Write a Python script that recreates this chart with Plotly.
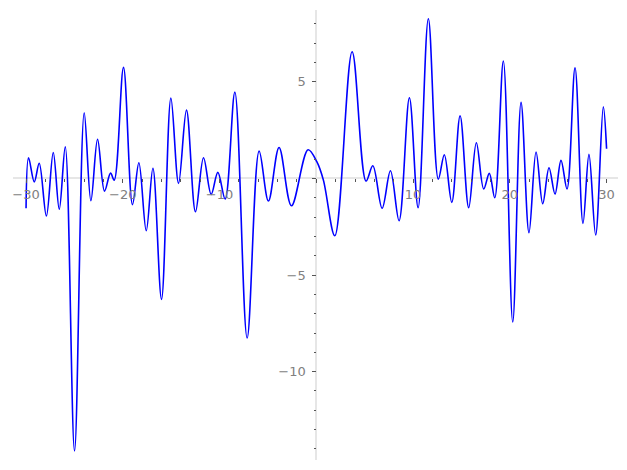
import plotly.graph_objects as go

# curve samples (local extrema and a few shape points)
x_vals = [-30, -29.74, -29.15, -28.64, -27.9, -27.19, -26.57, -25.95, -24.99, -23.99,
          -23.3, -22.61, -21.89, -21.27, -20.89, -19.93, -19.0, -18.34, -17.58, -16.89,
          -16.0, -15.03, -14.24, -13.42, -12.49, -11.66, -10.87, -10.18, -9.42, -8.42,
          -7.15, -5.91, -4.95, -3.85, -2.57, -0.85, 0.05, 0.73, 1.91, 3.7,
          5.14, 5.84, 6.8, 7.66, 8.55, 9.62, 10.52, 11.58, 12.61, 13.23,
          14.0, 14.86, 15.75, 16.54, 17.3, 17.88, 18.44, 19.33, 20.3, 21.16,
          21.98, 22.71, 23.4, 24.05, 24.67, 25.29, 25.91, 26.74, 27.56, 28.18,
          28.87, 29.66, 30]
y_vals = [-1.55, 1.07, -0.18, 0.78, -1.95, 1.34, -1.6, 1.63, -14.1, 3.39,
          -1.16, 2.02, -0.66, 0.27, -0.09, 5.74, -1.36, 0.81, -2.71, 0.52,
          -6.26, 4.15, -0.26, 3.53, -1.73, 1.07, -0.83, 0.31, -1.07, 4.46,
          -8.26, 1.41, -1.17, 1.6, -1.42, 1.48, 0.86, -0.09, -2.97, 6.55,
          -0.14, 0.65, -1.55, 0.39, -2.19, 4.17, -1.52, 8.26, -0.04, 1.22,
          -1.24, 3.24, -1.52, 1.84, -0.55, 0.26, -1.0, 6.07, -7.43, 3.93,
          -2.81, 1.36, -1.31, 0.55, -0.81, 0.93, -0.55, 5.72, -2.33, 1.24,
          -2.93, 3.7, 1.53]

x_tickvals = [-30, -20, -10, 0, 10, 20, 30]
x_ticktext = ["\u221230", "\u221220", "\u221210", "", "10", "20", "30"]
y_tickvals = [-10, -5, 0, 5]
y_ticktext = ["\u221210", "\u22125", "", "5"]

X_RANGE = [-31.35, 31.18]
Y_RANGE = [-14.57, 8.71]

fig = go.Figure()
fig.add_trace(go.Scatter(x=x_vals, y=y_vals, mode="lines",
                         line=dict(color="#0000ff", width=1.6, shape="spline", smoothing=1.0),
                         hoverinfo="skip"))

xpos = (0 - Y_RANGE[0]) / (Y_RANGE[1] - Y_RANGE[0])
ypos = (0 - X_RANGE[0]) / (X_RANGE[1] - X_RANGE[0])

tickfont = dict(family="DejaVu Sans", size=13, color="#808080")

fig.update_layout(
    width=627, height=470,
    margin=dict(l=13, r=9, t=10, b=10),
    paper_bgcolor="white", plot_bgcolor="white",
    showlegend=False,
    xaxis=dict(range=X_RANGE, anchor="free", position=xpos, showgrid=False,
               zeroline=True, zerolinecolor="#e6e6e6", zerolinewidth=2,
               showline=False, tickmode="array", tickvals=x_tickvals, ticktext=x_ticktext,
               ticks="outside", ticklen=4, tickwidth=1, tickcolor="#555555",
               tickfont=tickfont,
               minor=dict(dtick=2, tick0=0, ticks="outside", ticklen=2.5, tickcolor="#555555",
                          showgrid=False)),
    yaxis=dict(range=Y_RANGE, anchor="free", position=ypos, showgrid=False,
               zeroline=True, zerolinecolor="#e6e6e6", zerolinewidth=2,
               showline=False, tickmode="array", tickvals=y_tickvals, ticktext=y_ticktext,
               ticks="outside", ticklen=4, tickwidth=1, tickcolor="#555555",
               tickfont=tickfont, ticklabelstandoff=4,
               minor=dict(dtick=1, tick0=0, ticks="outside", ticklen=2.5, tickcolor="#555555",
                          showgrid=False)),
)

fig.write_html("out.html", config={"displayModeBar": False},
               post_script="document.body.style.margin='0px';")
